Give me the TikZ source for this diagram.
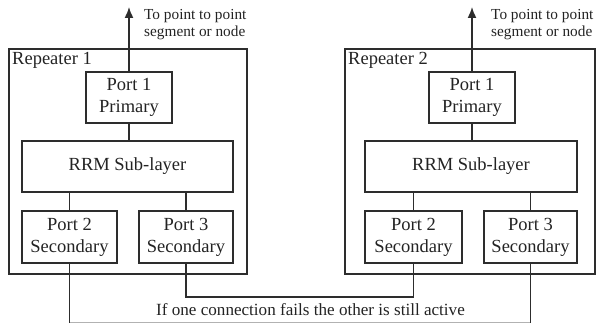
\documentclass[tikz,border=0pt]{standalone}
\usepackage{fontspec}
\setmainfont{Liberation Serif}
\usetikzlibrary{arrows.meta}
\definecolor{ink}{RGB}{35,35,35}
\definecolor{wire}{RGB}{45,45,45}
\begin{document}
\begin{tikzpicture}[x=1pt,y=-1pt,
  box/.style={draw=wire,line width=1.5pt,rectangle,inner sep=0pt,align=center,
    text=ink,font=\fontsize{18.5}{22}\selectfont},
  frame/.style={draw=wire,line width=1.5pt,rectangle,inner sep=0pt},
  wirestyle/.style={draw=wire,line width=1.5pt},
  uplink/.style={wirestyle,-{Latex[length=11pt,width=9pt]}},
  note/.style={text=ink,inner sep=0pt,align=left,font=\fontsize{15.3}{17}\selectfont},
  title/.style={text=ink,inner sep=0pt,font=\fontsize{18.5}{22}\selectfont}]
\useasboundingbox (0,0) rectangle (596,323);

% ---- Repeater 1 ----
\node[frame,minimum width=238pt,minimum height=225pt] (r1) at (128,161.5) {};
\node[title,anchor=north west] (r1t) at (12,52) {Repeater 1};
\node[box,minimum width=86pt,minimum height=51pt] (a1) at (129,97.5) {Port 1\\Primary};
\node[box,minimum width=211pt,minimum height=51pt] (a0) at (127.5,166.5) {RRM Sub-layer};
\node[box,minimum width=95pt,minimum height=52pt] (a2) at (69.5,237) {Port 2\\Secondary};
\node[box,minimum width=94pt,minimum height=52pt] (a3) at (186,237) {Port 3\\Secondary};
\coordinate (up1) at (129,7);
\node[note,anchor=west] (n1) at (144,24.5) {To point to point\\segment or node};

% ---- Repeater 2 ----
\node[frame,minimum width=250pt,minimum height=225pt] (r2) at (470,161.5) {};
\node[title,anchor=north west] (r2t) at (348,52) {Repeater 2};
\node[box,minimum width=86pt,minimum height=51pt] (b1) at (472,97.5) {Port 1\\Primary};
\node[box,minimum width=212pt,minimum height=51pt] (b0) at (471,166.5) {RRM Sub-layer};
\node[box,minimum width=97pt,minimum height=52pt] (b2) at (413.5,237) {Port 2\\Secondary};
\node[box,minimum width=93pt,minimum height=52pt] (b3) at (530.5,237) {Port 3\\Secondary};
\coordinate (up2) at (472,7);
\node[note,anchor=west] (n2) at (491,24.5) {To point to point\\segment or node};

% ---- internal links ----
\draw[uplink] (a1.north) -- (up1);
\draw[wirestyle] (a1.south) -- (a0.north -| a1.south);
\draw[wirestyle] (a2.north) -- (a0.south -| a2.north);
\draw[wirestyle] (a3.north) -- (a0.south -| a3.north);
\draw[uplink] (b1.north) -- (up2);
\draw[wirestyle] (b1.south) -- (b0.north -| b1.south);
\draw[wirestyle] (b2.north) -- (b0.south -| b2.north);
\draw[wirestyle] (b3.north) -- (b0.south -| b3.north);

% ---- redundant links between the repeaters ----
\draw[wirestyle] (a3.south) |- (413.5,297) -- (b2.south);
\draw[wirestyle,draw=black!30] (a2.south) |- (530.5,322.6) -- (b3.south);
\draw[wirestyle] (a2.south) -- (a2.south |- 0,323);
\draw[wirestyle] (b3.south) -- (b3.south |- 0,323);
\node[text=ink,inner sep=0pt,font=\fontsize{17.1}{20}\selectfont] (msg) at (310.5,309.5)
  {If one connection fails the other is still active};
\end{tikzpicture}
\end{document}
